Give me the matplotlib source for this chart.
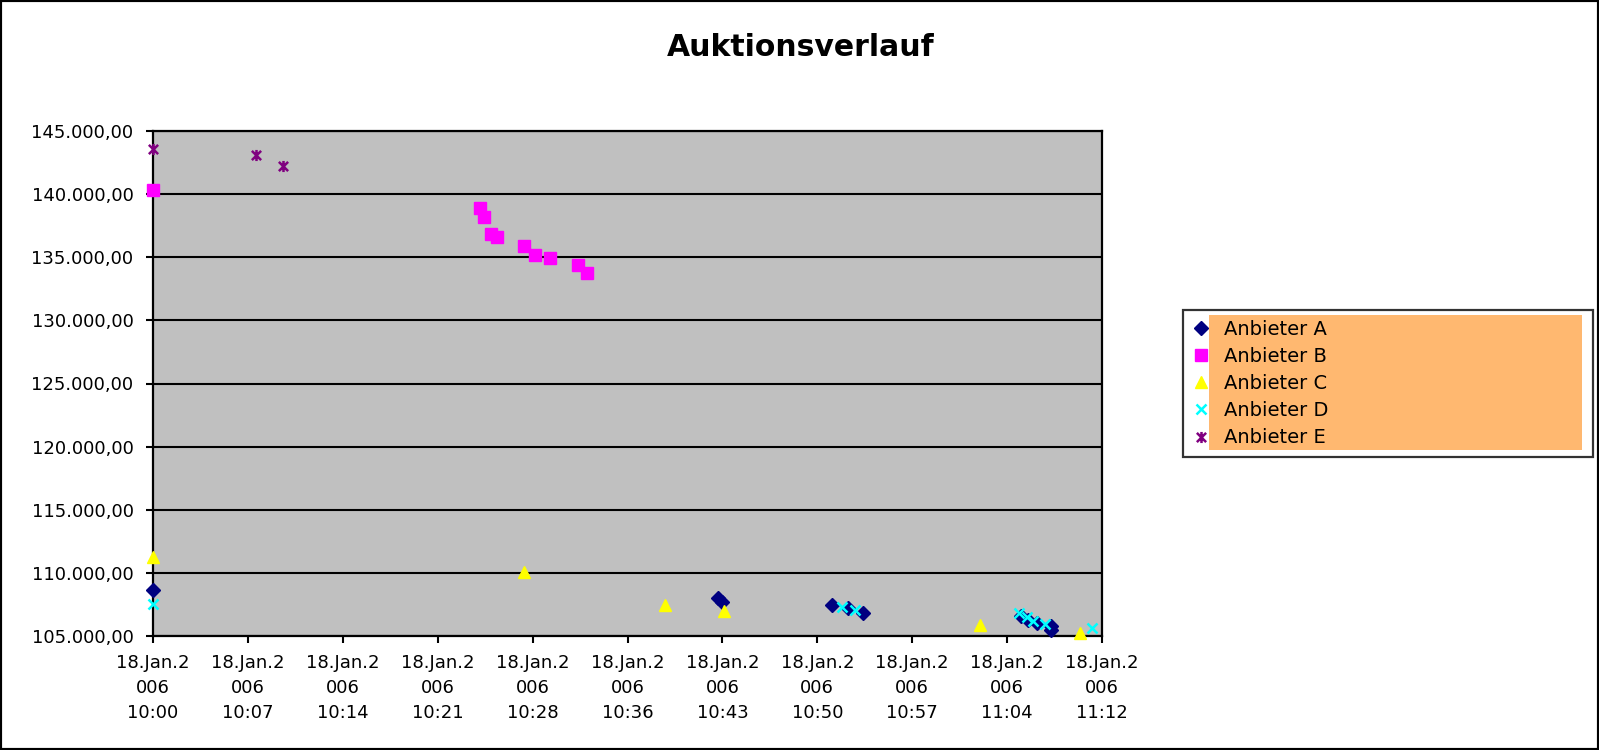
import numpy as np
import matplotlib
matplotlib.use("Agg")
import matplotlib.pyplot as plt
from matplotlib.path import Path
from matplotlib.patches import Rectangle
from matplotlib.ticker import FuncFormatter, FixedLocator

# Minuten nach 10:00 Uhr (18.01.2006) und Gebote
a_min = [0, 42.9, 43.15, 51.49, 52.70, 53.89, 65.85, 66.41, 67.05, 68.1, 68.15]
a_val = [108650, 108040, 107690, 107460, 107190, 106850, 106610, 106270, 106000, 105800, 105450]

b_min = [0, 24.83, 25.14, 25.62, 26.10, 28.17, 28.96, 30.14, 32.27, 32.9]
b_val = [140320, 138890, 138150, 136830, 136590, 135930, 135170, 134930, 134400, 133760]

c_min = [0, 28.15, 38.84, 43.35, 62.74, 70.33]
c_val = [111250, 110050, 107480, 106980, 105870, 105210]

d_min = [0, 52.25, 53.26, 65.7, 66.29, 66.79, 67.68, 71.22]
d_val = [107540, 107320, 107060, 106850, 106530, 106210, 105950, 105660]

e_min = [0, 7.8, 9.9]
e_val = [143600, 143100, 142250]

names = ["Anbieter A", "Anbieter B", "Anbieter C", "Anbieter D", "Anbieter E"]
xtick_labels = ["18.Jan.2\n006\n10:00", "18.Jan.2\n006\n10:07", "18.Jan.2\n006\n10:14",
                "18.Jan.2\n006\n10:21", "18.Jan.2\n006\n10:28", "18.Jan.2\n006\n10:36",
                "18.Jan.2\n006\n10:43", "18.Jan.2\n006\n10:50", "18.Jan.2\n006\n10:57",
                "18.Jan.2\n006\n11:04", "18.Jan.2\n006\n11:12"]

# Excel-Stern: x mit senkrechtem Strich
star = Path([(-1, -1), (1, 1), (-1, 1), (1, -1), (0, -1.2), (0, 1.2)],
            [Path.MOVETO, Path.LINETO, Path.MOVETO, Path.LINETO, Path.MOVETO, Path.LINETO])

plt.rcParams['font.family'] = ['DejaVu Sans']

fig = plt.figure(figsize=(15.99, 7.5), dpi=100)
ax = fig.add_axes([153 / 1599, 1 - 636 / 750, 949 / 1599, 505 / 750])
ax.set_facecolor('#C0C0C0')

series = [
    (a_min, a_val, dict(marker='D', color='#000080', markersize=7.5)),
    (b_min, b_val, dict(marker='s', color='#FF00FF', markersize=8.5)),
    (c_min, c_val, dict(marker='^', color='#FFFF00', markersize=8.5)),
    (d_min, d_val, dict(marker='x', color='#00FFFF', markersize=7, markeredgewidth=1.8)),
    (e_min, e_val, dict(marker=star, color='#800080', markersize=8, markeredgewidth=1.8)),
]
handles = []
for (xs, ys, st), name in zip(series, names):
    h, = ax.plot(xs, ys, linestyle='none', clip_on=False, zorder=3, label=name, **st)
    handles.append(h)

ax.set_xlim(0, 72)
ax.set_ylim(105000, 145000)
ax.xaxis.set_major_locator(FixedLocator(np.arange(11) * 7.2))
ax.set_xticklabels(xtick_labels, linespacing=1.5)
ax.set_yticks(np.arange(105000, 145001, 5000))
ax.yaxis.set_major_formatter(FuncFormatter(
    lambda v, p: f"{v:,.2f}".replace(",", "X").replace(".", ",").replace("X", ".")))

ax.grid(axis='y', color='black', linewidth=1.5)
ax.set_axisbelow(True)
for s in ax.spines.values():
    s.set_linewidth(1.6)
    s.set_color('black')
ax.tick_params(axis='both', length=5, width=1.5, labelsize=13, color='black')
ax.tick_params(axis='y', pad=9)
ax.tick_params(axis='x', pad=8)

fig.text(0.5008, 1 - 47 / 750, "Auktionsverlauf", ha='center', va='center',
         fontsize=21.5, fontweight='bold')

leg = fig.legend(handles=handles, loc='upper left',
                 bbox_to_anchor=(1183 / 1599, 1 - 310 / 750, 410 / 1599, 0.0),
                 mode='expand', fontsize=14, frameon=True, fancybox=False,
                 handlelength=0.8, handletextpad=0.8, borderpad=0.5, borderaxespad=0,
                 labelspacing=0.42)
leg.get_frame().set_facecolor('none')
leg.get_frame().set_edgecolor('black')
leg.get_frame().set_linewidth(1.6)

fig.add_artist(Rectangle((1209 / 1599, 1 - 450 / 750), 373 / 1599, 135 / 750,
                         transform=fig.transFigure, facecolor='#FFB870',
                         edgecolor='none', zorder=4))
fig.add_artist(Rectangle((0, 0), 1, 1, transform=fig.transFigure, fill=False,
                         edgecolor='black', linewidth=3, zorder=10))

fig.savefig('out.png', dpi=100)
